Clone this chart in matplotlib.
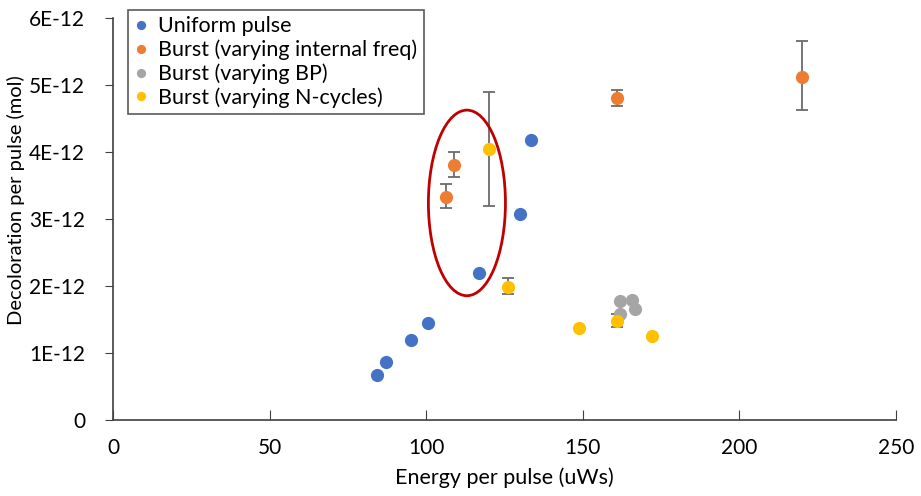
import matplotlib
matplotlib.use('Agg')
import matplotlib.pyplot as plt
from matplotlib.patches import Ellipse
from matplotlib.ticker import FuncFormatter

plt.rcParams['font.family'] = ['Lato', 'DejaVu Sans']

# values in units of 1E-12 mol
uniform_x = [84.4, 87.3, 95.3, 100.7, 117.0, 130.1, 133.6]
uniform_y = [0.67, 0.87, 1.20, 1.45, 2.20, 3.08, 4.18]

freq_x = [106.2, 108.8, 160.8, 220.0]
freq_y = [3.33, 3.81, 4.81, 5.12]
freq_lo = [3.16, 3.63, 4.69, 4.62]
freq_hi = [3.52, 4.00, 4.93, 5.65]

bp_x = [161.8, 161.8, 165.6, 166.8]
bp_y = [1.77, 1.58, 1.79, 1.66]

ncyc_x = [119.9, 126.0, 148.7, 161.0, 172.1]
ncyc_y = [4.04, 1.99, 1.37, 1.48, 1.26]
ncyc_lo = [3.19, 1.88, 1.37, 1.39, 1.26]
ncyc_hi = [4.90, 2.12, 1.37, 1.58, 1.26]

fig = plt.figure(figsize=(9.21, 4.96), dpi=100)
ax = fig.add_axes([113/921, 1 - 420/496, 783/921, 402/496])

ms = 9.5
errc = '#6b6b6b'

ax.errorbar(freq_x, freq_y,
            yerr=[[y - l for y, l in zip(freq_y, freq_lo)], [h - y for y, h in zip(freq_y, freq_hi)]],
            fmt='none', ecolor=errc, elinewidth=1.3, capsize=4, capthick=1.3, zorder=2)
ax.errorbar(ncyc_x, ncyc_y,
            yerr=[[y - l for y, l in zip(ncyc_y, ncyc_lo)], [h - y for y, h in zip(ncyc_y, ncyc_hi)]],
            fmt='none', ecolor=errc, elinewidth=1.3, capsize=4, capthick=1.3, zorder=2)

ax.plot(uniform_x, uniform_y, 'o', color='#4472C4', ms=ms, mew=0, label='Uniform pulse', zorder=3)
ax.plot(freq_x, freq_y, 'o', color='#ED7D31', ms=ms, mew=0, label='Burst (varying internal freq)', zorder=3)
ax.plot(bp_x, bp_y, 'o', color='#A5A5A5', ms=ms, mew=0, label='Burst (varying BP)', zorder=3)
ax.plot(ncyc_x, ncyc_y, 'o', color='#FFC000', ms=ms, mew=0, label='Burst (varying N-cycles)', zorder=4)

ax.add_patch(Ellipse((113.0, 3.24), 24.6, 2.77, fill=False, edgecolor='#C00000', lw=2, zorder=5))

ax.set_xlim(0, 250)
ax.set_ylim(0, 6)
ax.set_xticks(range(0, 251, 50))
ax.set_yticks(range(0, 7))
ax.yaxis.set_major_formatter(FuncFormatter(lambda v, p: '0' if v == 0 else '%dE-12' % v))

for s in ['top', 'right']:
    ax.spines[s].set_visible(False)
for s in ['left', 'bottom']:
    ax.spines[s].set_color('#404040')
    ax.spines[s].set_linewidth(1.2)
ax.tick_params(axis='x', direction='in', length=7, color='#404040', labelsize=15, pad=13)
ax.tick_params(axis='y', direction='out', length=6, color='#404040', labelsize=15, pad=14)

ax.set_xlabel('Energy per pulse (uWs)', fontsize=15.5, labelpad=7)
ax.set_ylabel('Decoloration per pulse (mol)', fontsize=14.5)
ax.yaxis.set_label_coords(-0.112, 0.547)

leg = ax.legend(loc='upper left', bbox_to_anchor=(128/921, 1 - 10/496), bbox_transform=fig.transFigure,
                fontsize=15.5, frameon=True, fancybox=False, markerscale=0.7, handlelength=0.6,
                handletextpad=0.5, labelspacing=0.15, borderpad=0.3, borderaxespad=0)
leg.get_frame().set_edgecolor('#303030')
leg.get_frame().set_linewidth(1.2)

fig.savefig('out.png', dpi=100)
